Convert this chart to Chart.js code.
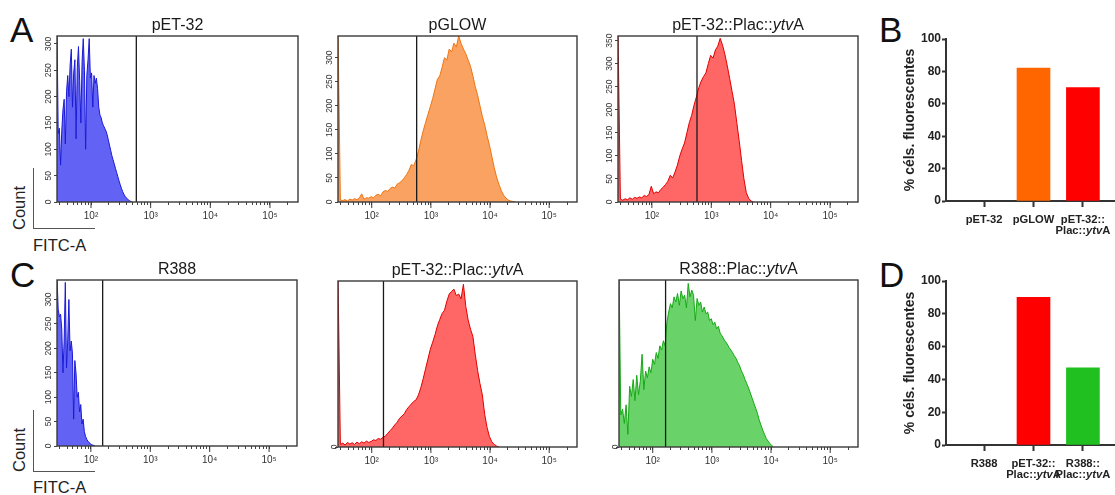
<!DOCTYPE html>
<html>
<head>
<meta charset="utf-8">
<script src="https://cdn.jsdelivr.net/npm/chart.js@4.4.0/dist/chart.umd.min.js"></script>
<style>
  body { margin: 0; background: #fff; overflow: hidden; }
  #fig { position: relative; width: 1115px; height: 495px; overflow: hidden; background: #fff;
         font-family: "Liberation Sans", Arial, sans-serif; color: #111; }
  canvas { position: absolute; }
  .letter { position: absolute; font-size: 35px; line-height: 35px; }
  .lab { position: absolute; font-size: 16.5px; line-height: 16.5px; color: #222; white-space: nowrap; }
  .rot { transform: translate(-50%, -50%) rotate(-90deg); }
  .ln { position: absolute; background: #555; }
</style>
</head>
<body>
<div id="fig">
  <div class="letter" style="left:10px; top:12px;">A</div>
  <div class="letter" style="left:879px; top:12px;">B</div>
  <div class="letter" style="left:10px; top:257px;">C</div>
  <div class="letter" style="left:879px; top:257px;">D</div>

  <div class="lab rot" style="left:19px; top:208px;">Count</div>
  <div class="lab" style="left:33px; top:237px;">FITC-A</div>
  <div class="ln" style="left:33px; top:168px; width:1.2px; height:61px;"></div>
  <div class="ln" style="left:33px; top:228px; width:62px; height:1.2px;"></div>

  <div class="lab rot" style="left:19px; top:450px;">Count</div>
  <div class="lab" style="left:33px; top:479px;">FITC-A</div>
  <div class="ln" style="left:33px; top:410px; width:1.2px; height:62px;"></div>
  <div class="ln" style="left:33px; top:471px; width:62px; height:1.2px;"></div>
</div>
<script>
// ---- histogram data (counts per log10 bin, bins start at startLog, step stepLog) ----
const titlesA = ["pET-32", "pGLOW", "pET-32::Plac::*ytv*A"];
const titlesC = ["R388", "pET-32::Plac::*ytv*A", "R388::Plac::*ytv*A"];

const countsA1 = [330,130,140,70,135,175,195,110,210,240,200,260,290,180,245,270,120,255,295,230,
  150,265,310,250,100,240,270,310,235,245,180,240,225,235,215,180,165,160,150,145,
  140,135,128,118,108,98,88,80,72,64,56,48,40,33,26,20,15,11,8,6,4,2,1,0];
const countsA2 = [360,4,3,5,2,6,4,7,5,8,17,6,9,8,11,9,14,16,13,21,24,22,28,31,29,37,40,44,50,57,
  66,78,75,88,105,128,148,165,182,198,215,235,255,262,280,300,295,318,312,330,322,345,330,318,308,
  295,282,262,240,222,200,178,160,138,118,95,72,52,37,24,14,8,4,2,1,0];
const countsA3 = [370,6,4,7,5,9,6,10,8,11,9,14,12,16,34,18,22,20,27,32,38,45,58,52,65,80,100,115,
  128,150,172,188,210,228,248,262,272,280,300,318,312,330,338,355,340,320,295,268,240,212,172,133,
  90,50,20,8,2,0];
const countsC1 = [345,280,265,270,240,150,215,335,160,215,300,195,215,190,55,175,150,100,110,70,
  85,45,55,30,20,14,10,7,5,3,2,1,0];
const countsC2 = [530,8,12,6,14,9,13,8,15,10,16,12,18,14,17,22,20,26,24,30,33,42,50,58,68,76,88,
  95,102,115,124,132,140,145,160,182,210,240,270,300,322,345,372,392,410,420,448,470,478,485,465,
  470,455,500,432,390,362,340,285,235,195,160,100,60,32,16,8,3,0];
const countsC3 = [210,38,45,28,50,15,72,60,80,55,85,62,78,110,68,90,82,95,88,104,98,112,105,120,
  115,126,120,148,160,170,165,178,172,182,168,185,176,180,165,194,178,186,180,150,176,168,172,160,
  166,158,160,150,152,145,148,140,143,135,132,128,125,122,118,115,112,108,105,100,96,90,86,80,75,
  70,64,58,52,46,40,32,26,20,15,10,7,4,2,0];

const startLog = 1.43;
const stepsA = [0.02, 0.04, 0.04];
const stepsC = [0.02, 0.04, 0.03];
const gatesA = [575, 575, 575];
const gatesC = [158, 158, 165];
const ymaxA = [315, 345, 360];
const ymaxC = [340, 510, 198];
const ystepA = [50, 50, 50];
const ystepC = [50, 100, 50];

const decadeValues = [100, 1000, 10000, 100000];
const decadeLabels = ["10²", "10³", "10⁴", "10⁵"];

// ---- bar chart data ----
const catsB = ["pET-32", "pGLOW", "pET-32::\nPlac::*ytv*A"];
const valsB = [0, 82, 70];
const catsD = ["R388", "pET-32::\nPlac::*ytv*A", "R388::\nPlac::*ytv*A"];
const valsD = [0, 90, 47];

// ---- layout / styles ----
const boxesA = [[57, 36, 298, 202], [338, 36, 577, 202], [618, 36, 858, 202]];
const boxesC = [[57, 280, 297, 446], [338, 281, 577, 447], [619, 280, 858, 447]];
const fillsA = ["rgb(98,98,245)", "rgb(250,162,98)", "rgb(255,102,102)"];
const linesA = ["#1a1ad6", "#ef7410", "#e00000"];
const fillsC = ["rgb(98,98,245)", "rgb(255,102,102)", "rgb(105,210,105)"];
const linesC = ["#1a1ad6", "#e00000", "#16a816"];
const colorsB = ["rgba(0,0,0,0)", "#ff6600", "#ff0000"];
const colorsD = ["rgba(0,0,0,0)", "#ff0000", "#20c020"];

const FONT = '"Liberation Sans", Arial, sans-serif';
Chart.defaults.font.family = FONT;

const xMin = Math.pow(10, startLog);
const xMax = Math.pow(10, 5.47);

// tick positions on the log axis: 1..9 x 10^n inside the range
const logTicks = [];
[1, 2, 3, 4, 5].forEach(e => {
  [1, 2, 3, 4, 5, 6, 7, 8, 9].forEach(m => {
    const v = m * Math.pow(10, e);
    if (v >= xMin && v <= xMax) logTicks.push(v);
  });
});

const fig = document.getElementById("fig");

function addCanvas(left, top, w, h) {
  const c = document.createElement("canvas");
  c.width = w;
  c.height = h;
  c.style.left = left + "px";
  c.style.top = top + "px";
  fig.appendChild(c);
  return c;
}

// draw text where *...* parts are italic, centred on cx
function drawRich(ctx, text, cx, y, size, bold, color, baseline) {
  const parts = text.split("*");
  const fontOf = i => (i % 2 ? "italic " : "") + (bold ? "bold " : "") + size + "px " + FONT;
  let total = 0;
  parts.forEach((p, i) => { ctx.font = fontOf(i); total += ctx.measureText(p).width; });
  let x = cx - total / 2;
  ctx.fillStyle = color;
  ctx.textAlign = "left";
  ctx.textBaseline = baseline;
  parts.forEach((p, i) => {
    ctx.font = fontOf(i);
    ctx.fillText(p, x, y);
    x += ctx.measureText(p).width;
  });
}

// frame, gate line, long decade ticks and title of a histogram
const histDeco = {
  id: "histDeco",
  afterDraw(chart, args, opts) {
    const { ctx, chartArea: a } = chart;
    const x = chart.scales.x;
    ctx.save();
    const gx = x.getPixelForValue(opts.gate);
    ctx.strokeStyle = "#1a1a1a";
    ctx.lineWidth = 1.3;
    ctx.beginPath();
    ctx.moveTo(gx, a.top);
    ctx.lineTo(gx, a.bottom);
    ctx.stroke();

    ctx.strokeStyle = "#3a3a3a";
    ctx.lineWidth = 1.4;
    ctx.strokeRect(a.left, a.top, a.right - a.left, a.bottom - a.top);

    ctx.lineWidth = 1;
    decadeValues.forEach(v => {
      const px = x.getPixelForValue(v);
      ctx.beginPath();
      ctx.moveTo(px, a.bottom);
      ctx.lineTo(px, a.bottom + 6);
      ctx.stroke();
    });

    drawRich(ctx, opts.title, (a.left + a.right) / 2, a.top - 6, 16, false, "#1a1a1a", "alphabetic");
    ctx.restore();
  }
};

function histChart(box, counts, step, gate, ymax, ystep, title, fill, line) {
  const [L, T, R, B] = box;
  const canvas = addCanvas(L - 30, T - 30, R - L + 34, B - T + 54);
  const pts = counts.map((c, i) => ({ x: Math.pow(10, startLog + i * step), y: c }));
  return new Chart(canvas, {
    type: "line",
    data: {
      datasets: [{
        data: pts,
        borderColor: line,
        backgroundColor: fill,
        borderWidth: 1,
        fill: "origin",
        pointRadius: 0,
        tension: 0
      }]
    },
    options: {
      responsive: false,
      animation: false,
      devicePixelRatio: 1,
      layout: { padding: { top: 30, right: 4, left: 0, bottom: 0 } },
      plugins: {
        legend: { display: false },
        tooltip: { enabled: false },
        histDeco: { gate, title }
      },
      scales: {
        x: {
          type: "logarithmic",
          min: xMin,
          max: xMax,
          afterBuildTicks: s => { s.ticks = logTicks.map(v => ({ value: v })); },
          afterFit: s => { s.height = 24; },
          ticks: {
            autoSkip: false,
            maxRotation: 0,
            padding: 5,
            color: "#333",
            font: { size: 10 },
            callback: v => {
              const k = decadeValues.indexOf(v);
              return k >= 0 ? decadeLabels[k] : "";
            }
          },
          grid: { drawOnChartArea: false, tickLength: 3, tickColor: "#444" },
          border: { display: false }
        },
        y: {
          min: 0,
          max: ymax,
          afterBuildTicks: s => { s.ticks = s.ticks.filter(t => t.value % ystep === 0); },
          afterFit: s => { s.width = 30; },
          ticks: {
            stepSize: ystep,
            includeBounds: false,
            autoSkip: false,
            minRotation: 90,
            maxRotation: 90,
            crossAlign: "center",
            padding: -2,
            color: "#333",
            font: { size: 8.5 }
          },
          grid: { drawOnChartArea: false, tickLength: 3, tickColor: "#444" },
          border: { display: false }
        }
      }
    },
    plugins: [histDeco]
  });
}

// two-line, partly italic category labels under the bars
const barLabels = {
  id: "barLabels",
  afterDraw(chart, args, opts) {
    const { ctx, chartArea: a } = chart;
    const x = chart.scales.x;
    ctx.save();
    opts.labels.forEach((lab, i) => {
      const px = x.getPixelForValue(i);
      lab.split("\n").forEach((ln, j) => {
        drawRich(ctx, ln, px, a.bottom + 18.5 + j * 11.5, 11.2, true, "#222", "middle");
      });
    });
    ctx.restore();
  }
};

function barChart(top, plotH, cats, vals, colors) {
  const canvas = addCanvas(895, top - 10, 225, plotH + 55);
  return new Chart(canvas, {
    type: "bar",
    data: {
      datasets: [{
        data: vals.map((v, i) => ({ x: i, y: v })),
        backgroundColor: colors,
        borderWidth: 0,
        barThickness: 33
      }]
    },
    options: {
      responsive: false,
      animation: false,
      devicePixelRatio: 1,
      layout: { padding: { top: 10, right: 0, left: 0, bottom: 0 } },
      plugins: {
        legend: { display: false },
        tooltip: { enabled: false },
        barLabels: { labels: cats }
      },
      scales: {
        x: {
          type: "linear",
          min: -0.77,
          max: 2.75,
          offset: false,
          afterBuildTicks: s => { s.ticks = cats.map((c, i) => ({ value: i })); },
          afterFit: s => { s.height = 45; },
          ticks: { display: false },
          grid: { drawOnChartArea: false, offset: false, tickLength: 6, tickWidth: 2, tickColor: "#333" },
          border: { color: "#333", width: 2 }
        },
        y: {
          min: 0,
          max: 100,
          afterFit: s => { s.width = 51; },
          ticks: { stepSize: 20, padding: 1, color: "#222", font: { size: 12, weight: "bold" } },
          grid: { drawOnChartArea: false, tickLength: 4, tickWidth: 2, tickColor: "#333" },
          border: { color: "#333", width: 2 },
          title: {
            display: true,
            text: "% céls. fluorescentes",
            color: "#222",
            font: { size: 14, weight: "bold" },
            padding: { top: 7, bottom: 0 }
          }
        }
      }
    },
    plugins: [barLabels]
  });
}

const countsA = [countsA1, countsA2, countsA3];
const countsC = [countsC1, countsC2, countsC3];
for (let i = 0; i < 3; i++) {
  histChart(boxesA[i], countsA[i], stepsA[i], gatesA[i], ymaxA[i], ystepA[i], titlesA[i], fillsA[i], linesA[i]);
  histChart(boxesC[i], countsC[i], stepsC[i], gatesC[i], ymaxC[i], ystepC[i], titlesC[i], fillsC[i], linesC[i]);
}
barChart(39, 162, catsB, valsB, colorsB);
barChart(281, 164, catsD, valsD, colorsD);
</script>
</body>
</html>
